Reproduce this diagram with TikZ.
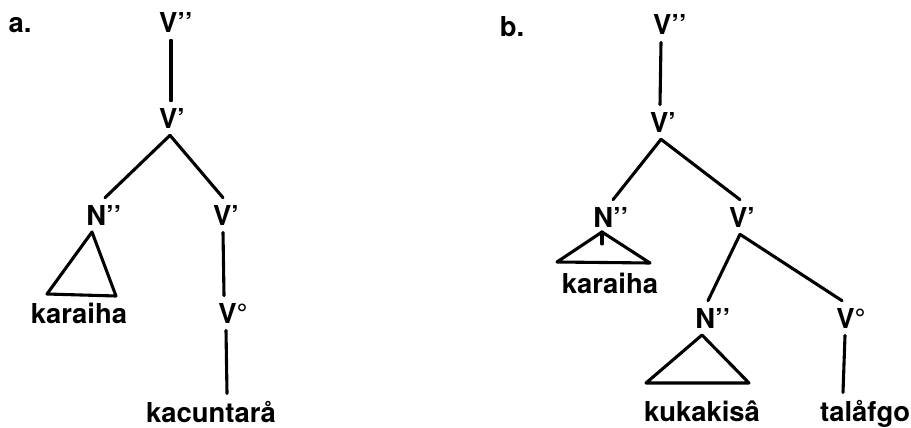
\documentclass[tikz,border=0pt]{standalone}
\usepackage{fontspec}
\setmainfont{TeX Gyre Heros}
\tikzset{
  lab/.style={anchor=base, inner xsep=0pt, inner ysep=5pt,
    font=\fontsize{19.5}{22}\selectfont\bfseries},
  br/.style={line width=2.2pt, line cap=round, line join=round}
}
\begin{document}
\begin{tikzpicture}[x=0.025cm, y=-0.025cm, every edge/.append style={br}]
\useasboundingbox (0,0) rectangle (911,427);
% tree a
\node[lab] (alab) at (20,33) {a.};
\node[lab] (aVpp) at (176,33) {V’’};
\node[lab] (aVp) at (172,128) {V’};
\node[lab] (aNpp) at (104,225) {N’’};
\node[lab] (aVpb) at (226,225) {V’};
\node[lab] (akar) at (79,323) {karaiha};
\node[lab] (aVo) at (233,323) {V°};
\node[lab] (akac) at (211,422) {kacuntarå};
\path
  (aVpp.south -| 171,0) edge (aVp.north -| 171,0)
  (aVp.south -| 170,0) edge (aNpp.north -| 105,0)
  (aVp.south -| 170,0) edge (aVpb.north -| 223,0)
  (aVpb.south -| 223,0) edge (aVo.north -| 224,0)
  (aVo.south -| 226,0) edge (akac.north -| 227,0)
;
\draw[br] (92,232) -- (47,294) -- (116,296) -- cycle;
% tree b
\node[lab] (blab) at (512,37) {b.};
\node[lab] (bVpp) at (670,35) {V’’};
\node[lab] (bVp) at (663,132) {V’};
\node[lab] (bNpp) at (611,227) {N’’};
\node[lab] (bVpb) at (742,227) {V’};
\node[lab] (bkar) at (610,293) {karaiha};
\node[lab] (bNppb) at (713,328) {N’’};
\node[lab] (bVo) at (851,328) {V°};
\node[lab] (bkuk) at (702,421) {kukakisâ};
\node[lab] (btal) at (865,421) {talåfgo};
\path
  (bVpp.south -| 661,0) edge (bVp.north -| 660,0)
  (bVp.south -| 661,0) edge (bNpp.north -| 613,0)
  (bVp.south -| 661,0) edge (bVpb.north -| 740,0)
  (bVpb.south -| 740,0) edge (bNppb.north -| 708,0)
  (bVpb.south -| 740,0) edge (bVo.north -| 842,0)
  (bVo.south -| 845,0) edge (btal.north -| 843,0)
;
\draw[br] (602,232) -- (557,262) -- (650,263) -- cycle;
\draw[br] (602,232) -- (602,244);
\draw[br] (702,335) -- (646,383) -- (749,383) -- cycle;
\end{tikzpicture}
\end{document}
